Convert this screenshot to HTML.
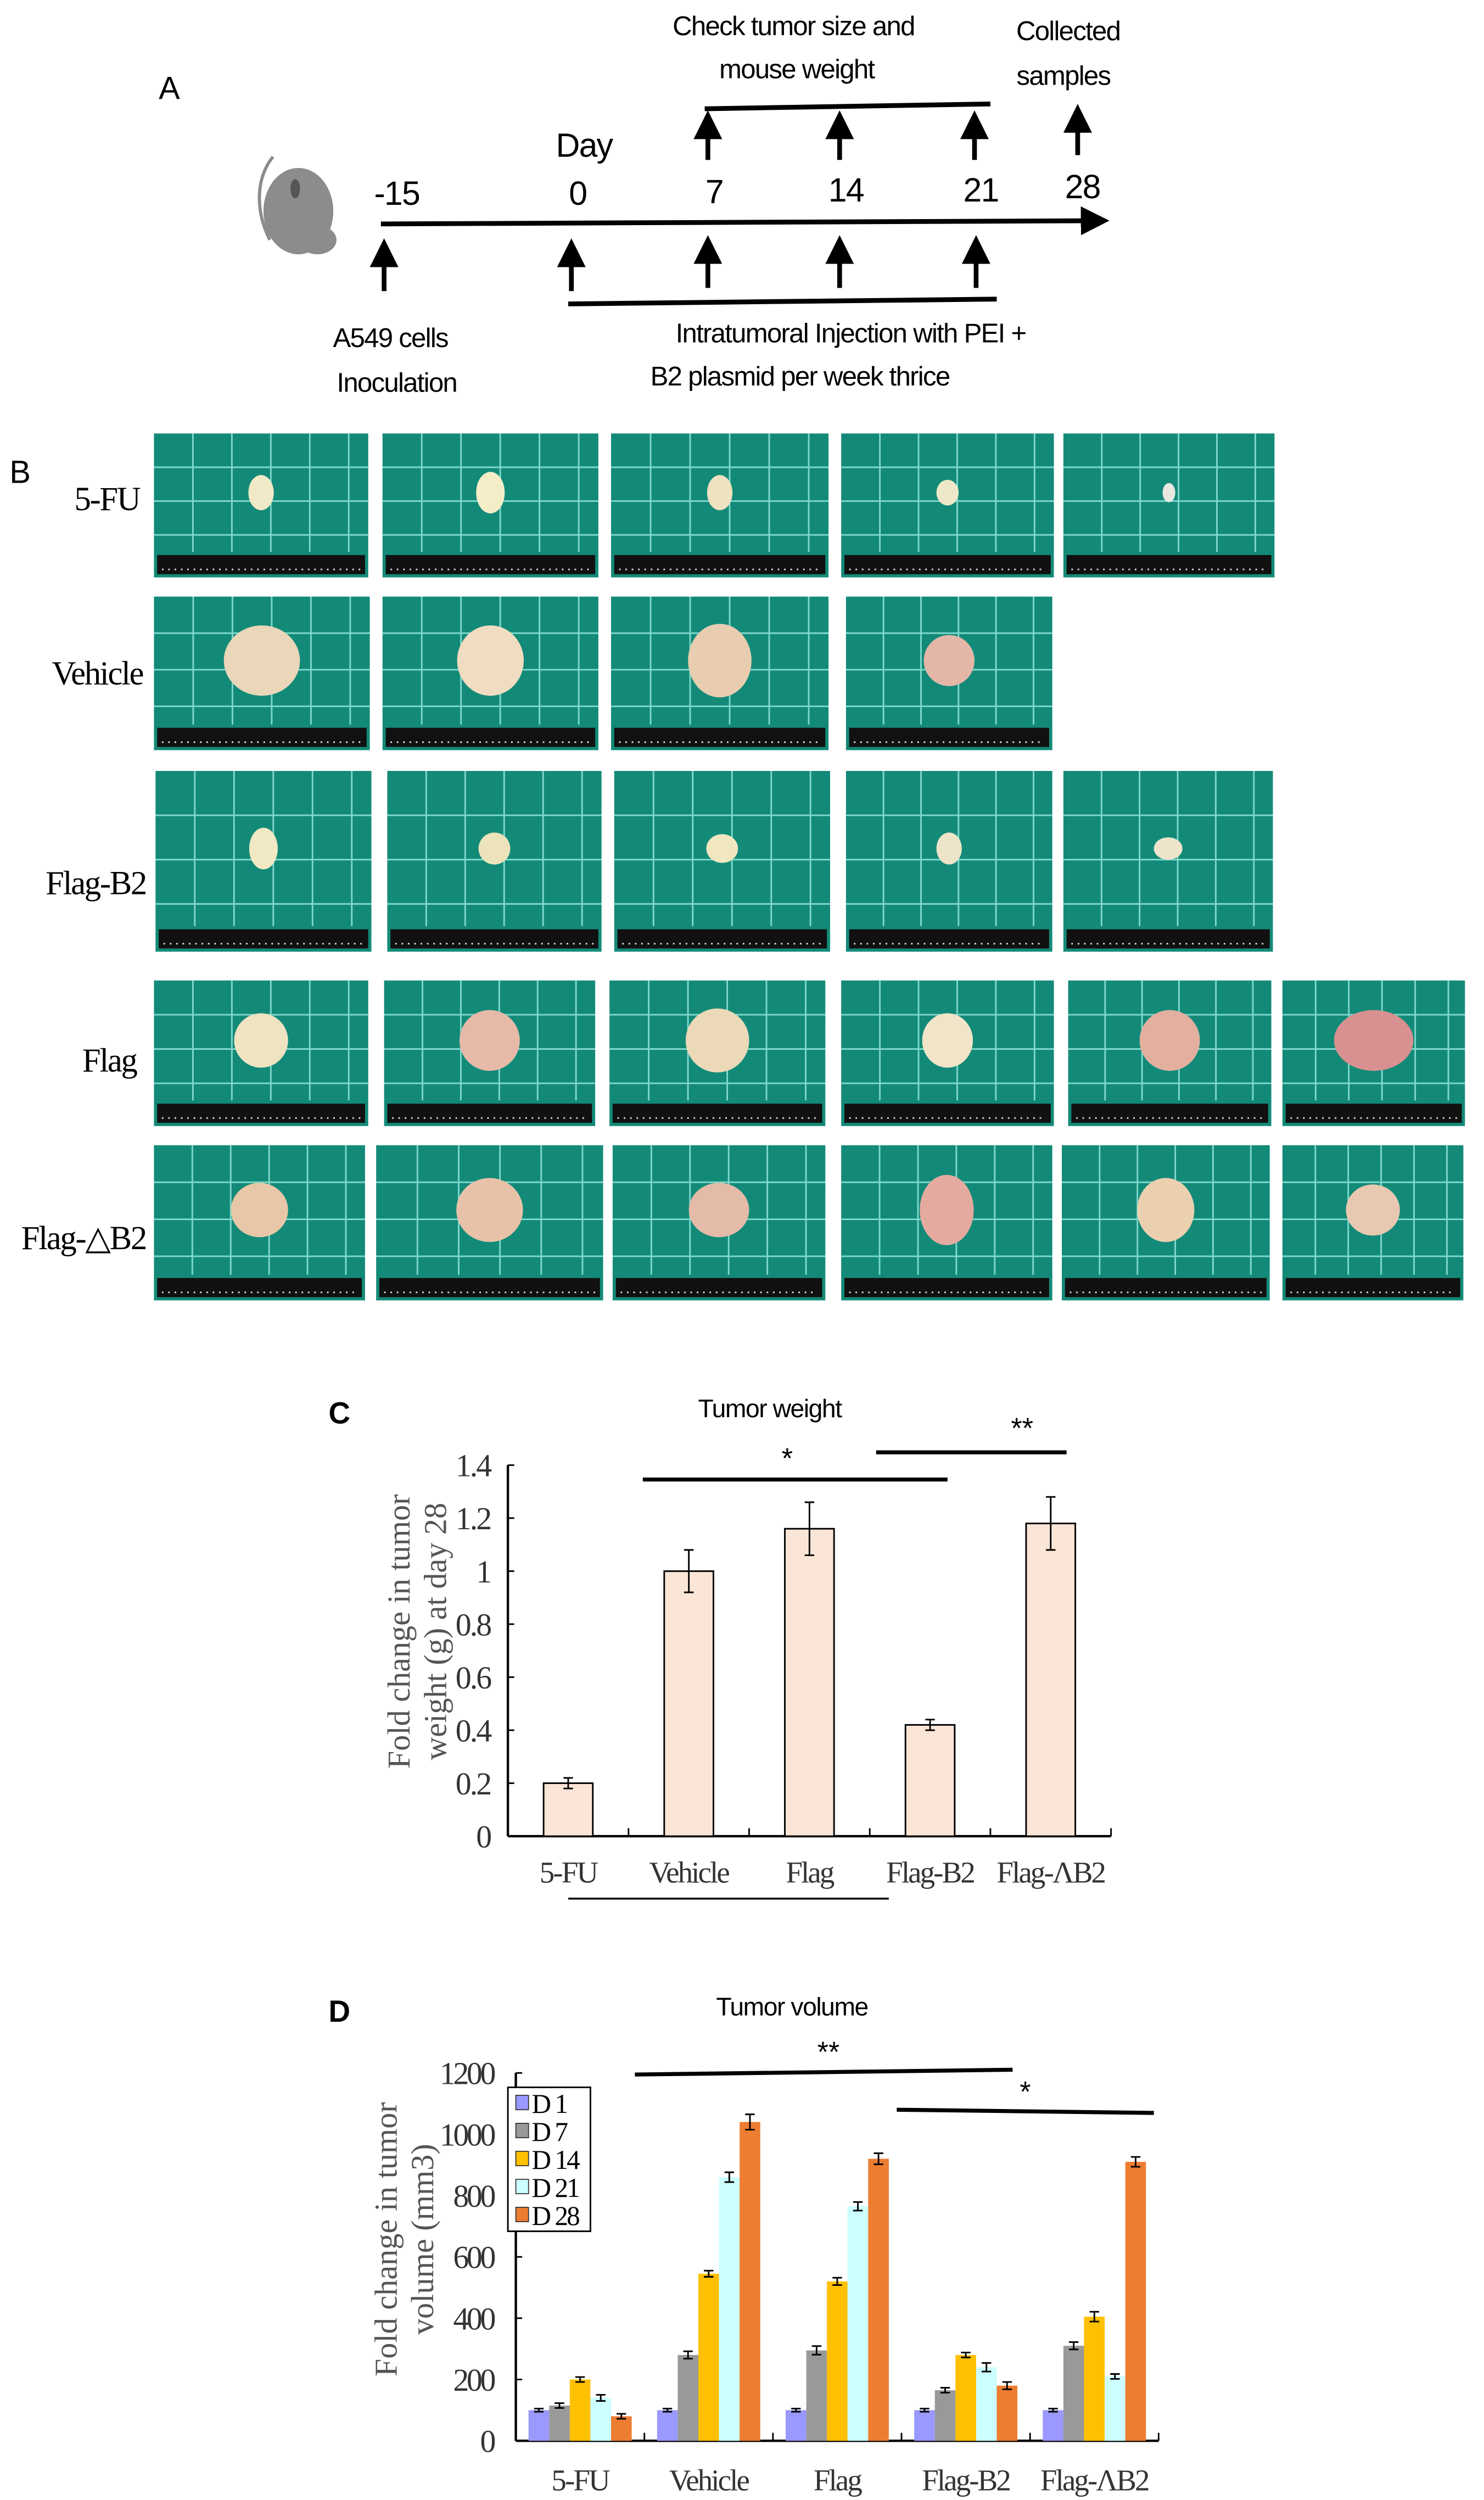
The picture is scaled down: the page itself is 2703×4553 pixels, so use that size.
<!DOCTYPE html>
<html><head><meta charset="utf-8"><style>
html,body{margin:0;padding:0;background:#fff;}
svg{display:block;}
.s{font-family:"Liberation Sans Narrow","Liberation Sans",sans-serif;}
.t{font-family:"Liberation Serif",serif;}
</style></head><body>
<svg id="fig" width="2703" height="4553" viewBox="0 0 935 1563" preserveAspectRatio="none" xmlns="http://www.w3.org/2000/svg">
<defs>
<marker id="ah" markerWidth="6" markerHeight="6" refX="3" refY="3" orient="auto"><path d="M0,0 L6,3 L0,6 z" fill="#000"/></marker>
</defs>
<!-- Panel A -->
<g class="s" font-size="17" fill="#000" letter-spacing="-0.6">
<text x="100" y="62" font-size="20">A</text>
<g>
<ellipse cx="188" cy="132" rx="22" ry="27" fill="#8c8c8c"/>
<ellipse cx="200" cy="150" rx="12" ry="9" fill="#8c8c8c"/>
<ellipse cx="186" cy="118" rx="3" ry="6" fill="#555"/>
<path d="M170,150 C160,130 162,110 172,98" stroke="#8c8c8c" stroke-width="2" fill="none"/>
</g>
<line x1="240" y1="140" x2="690" y2="138" stroke="#000" stroke-width="3" marker-end="url(#ah)"/>
<text x="368" y="98" text-anchor="middle" font-size="21">Day</text>
<g font-size="21" text-anchor="middle">
<text x="250" y="128">-15</text><text x="364" y="128">0</text><text x="450" y="127">7</text><text x="533" y="126">14</text><text x="618" y="126">21</text><text x="682" y="124">28</text>
</g>
<g stroke="#000" stroke-width="3">
<line x1="446" y1="100" x2="446" y2="78" marker-end="url(#ah)"/>
<line x1="529" y1="100" x2="529" y2="78" marker-end="url(#ah)"/>
<line x1="614" y1="100" x2="614" y2="78" marker-end="url(#ah)"/>
<line x1="679" y1="97" x2="679" y2="74" marker-end="url(#ah)"/>
<line x1="444" y1="68" x2="624" y2="65"/>
</g>
<g stroke="#000" stroke-width="3">
<line x1="242" y1="182" x2="242" y2="158" marker-end="url(#ah)"/>
<line x1="360" y1="182" x2="360" y2="158" marker-end="url(#ah)"/>
<line x1="446" y1="180" x2="446" y2="156" marker-end="url(#ah)"/>
<line x1="529" y1="180" x2="529" y2="156" marker-end="url(#ah)"/>
<line x1="615" y1="180" x2="615" y2="156" marker-end="url(#ah)"/>
<line x1="358" y1="190" x2="628" y2="187"/>
</g>
<text x="500" y="22" text-anchor="middle">Check tumor size and</text>
<text x="502" y="49" text-anchor="middle">mouse weight</text>
<text x="673" y="25" text-anchor="middle">Collected</text>
<text x="670" y="53" text-anchor="middle">samples</text>
<text x="246" y="217" text-anchor="middle">A549 cells</text>
<text x="250" y="245" text-anchor="middle">Inoculation</text>
<text x="536" y="214" text-anchor="middle">Intratumoral Injection with PEI +</text>
<text x="504" y="241" text-anchor="middle">B2 plasmid per week thrice</text>
</g>
<!-- Panel B -->
<g id="panelB">
<text x="6" y="302" font-size="20" class="s">B</text>
<g class="t" font-size="21" text-anchor="end" letter-spacing="-0.8">
<text x="88" y="319">5-FU</text>
<text x="90" y="428">Vehicle</text>
<text x="92" y="559">Flag-B2</text>
<text x="86" y="670">Flag</text>
<text x="92" y="781">Flag-△B2</text>
</g>
</g>
<!-- Panel C -->
<g id="chartC"></g>
<!-- Panel D -->
<g id="chartD"></g>
</svg>
<script>
const NS="http://www.w3.org/2000/svg";
function mk(p,tag,a,txt){const e=document.createElementNS(NS,tag);for(const k in a)e.setAttribute(k,a[k]);if(txt!==undefined)e.textContent=txt;p.appendChild(e);return e;}

// ---- photos (panel B) ----
const photoRows=[
 {y:271,h:90,xs:[[97,232],[241,377],[385,522],[530,664],[670,803]],t:[[8,11,'#efe9c8'],[9,13,'#f3edc8'],[8,11,'#eee2c0'],[7,8,'#eee8c8'],[4,6,'#e8e8e0']]},
 {y:373,h:96,xs:[[97,233],[241,377],[385,522],[533,663]],t:[[24,22,'#ead6b8'],[21,22,'#f0dcc0'],[20,23,'#e8cdb0'],[16,16,'#e3b6a8']]},
 {y:482,h:113,xs:[[98,234],[244,379],[387,523],[533,663],[670,802]],t:[[9,13,'#f1e8c4'],[10,10,'#ece3bb'],[10,9,'#f0e6c0'],[8,10,'#ece4c8'],[9,7,'#eee4cc']]},
 {y:613,h:91,xs:[[97,232],[242,375],[384,520],[530,664],[673,801],[808,923]],t:[[17,17,'#efe3c2'],[19,19,'#e7b9a8'],[20,20,'#ecd9b8'],[16,17,'#f1e4c8'],[19,19,'#e3b0a0'],[25,19,'#d99090']]},
 {y:716,h:97,xs:[[97,230],[237,380],[386,520],[530,663],[669,800],[808,922]],t:[[18,17,'#e8c7a8'],[21,20,'#e8c2a8'],[19,17,'#e4bba8'],[17,22,'#e4aaa0'],[18,20,'#ebd0b0'],[17,16,'#e8c8b0']]}
];
const pb=document.getElementById('panelB');
photoRows.forEach((r,ri)=>{r.xs.forEach((xx,ci)=>{
 const g=mk(pb,'g',{});
 
 
 const w=xx[1]-xx[0];
 mk(g,'rect',{x:xx[0],y:r.y,width:w,height:r.h,fill:'#138a78'});
 for(let k=1;k<6;k++)mk(g,'line',{x1:xx[0]+k*w/5.5,y1:r.y,x2:xx[0]+k*w/5.5,y2:r.y+r.h-16,stroke:'#7fd8cc','stroke-width':1});
 for(let k=1;k<4;k++)mk(g,'line',{x1:xx[0],y1:r.y+k*(r.h-16)/3.5,x2:xx[0]+w,y2:r.y+k*(r.h-16)/3.5,stroke:'#7fd8cc','stroke-width':1});
 mk(g,'rect',{x:xx[0]+2,y:r.y+r.h-14,width:w-4,height:12,fill:'#111'});
 mk(g,'line',{x1:xx[0]+5,y1:r.y+r.h-5,x2:xx[0]+w-5,y2:r.y+r.h-5,stroke:'#ddd','stroke-width':1,'stroke-dasharray':'1,3'});
 const t=r.t[ci];
 mk(g,'ellipse',{cx:xx[0]+w*0.5,cy:r.y+(r.h-16)*0.5,rx:t[0],ry:t[1],fill:t[2]});
});});

// ---- Chart C ----
const cCategories=['5-FU','Vehicle','Flag','Flag-B2','Flag-ΛB2'];
const cValues=[0.2,1.0,1.16,0.42,1.18];
const cErrors=[0.02,0.08,0.1,0.02,0.1];
const cTicks=[0,0.2,0.4,0.6,0.8,1,1.2,1.4];
(function(){
 const g=document.getElementById('chartC');
 const x0=320,x1=700,yb=1148,yt=916,ymax=1.4;
 const Y=v=>yb-(v/ymax)*(yb-yt);
 const band=(x1-x0)/cCategories.length;
 const X=i=>x0+band*(i+0.5);
 let e;
 e=mk(g,'text',{x:207,y:890,'font-size':19,'font-family':'Liberation Sans, sans-serif','font-weight':'bold'},'C');
 
 e=mk(g,'text',{x:485,y:886,'font-size':16,'letter-spacing':-0.5,'text-anchor':'middle','font-family':'Liberation Sans Narrow, Liberation Sans, sans-serif'},'Tumor weight');
 
 e=mk(g,'line',{x1:x0,y1:yt,x2:x0,y2:yb,stroke:'#000','stroke-width':1.5});
 
 e=mk(g,'line',{x1:x0,y1:yb,x2:x1,y2:yb,stroke:'#000','stroke-width':1.5});
 
 cTicks.forEach(v=>{mk(g,'line',{x1:x0,y1:Y(v),x2:x0+4,y2:Y(v),stroke:'#000'});
  e=mk(g,'text',{x:309,y:Y(v)+7,'font-size':20,'letter-spacing':-1,'text-anchor':'end','font-family':'Liberation Serif, serif',fill:'#333'},String(v));
  });
 for(let i=1;i<=cCategories.length;i++)mk(g,'line',{x1:x0+band*i,y1:yb,x2:x0+band*i,y2:yb-5,stroke:'#000'});
 cValues.forEach((v,i)=>{
  e=mk(g,'rect',{x:X(i)-15.5,y:Y(v),width:31,height:yb-Y(v),fill:'#fbe5d6',stroke:'#000','stroke-width':1});
  
  const eh=Y(v+cErrors[i]),el=Y(v-cErrors[i]);
  e=mk(g,'path',{d:`M${X(i)},${eh}V${el}M${X(i)-3},${eh}H${X(i)+3}M${X(i)-3},${el}H${X(i)+3}`,stroke:'#000',fill:'none'});
  
  e=mk(g,'text',{x:X(i),y:1177,'font-size':19,'letter-spacing':-1,'text-anchor':'middle','font-family':'Liberation Serif, serif',fill:'#333'},cCategories[i]);
  
 });
 e=mk(g,'text',{transform:'translate(258,1020) rotate(-90)','font-size':20,'text-anchor':'middle','font-family':'Liberation Serif, serif',fill:'#555'},'Fold change in tumor');
 
 e=mk(g,'text',{transform:'translate(281,1020) rotate(-90)','font-size':20,'text-anchor':'middle','font-family':'Liberation Serif, serif',fill:'#555'},'weight (g) at day 28');
 
 e=mk(g,'line',{x1:405,y1:925,x2:597,y2:925,stroke:'#000','stroke-width':2.5});
 
 mk(g,'text',{x:496,y:918,'font-size':18,'text-anchor':'middle','font-family':'Liberation Sans, sans-serif'},'*');
 e=mk(g,'line',{x1:552,y1:908,x2:672,y2:908,stroke:'#000','stroke-width':2.5});
 
 mk(g,'text',{x:644,y:899,'font-size':18,'text-anchor':'middle','font-family':'Liberation Sans, sans-serif'},'**');
 e=mk(g,'line',{x1:358,y1:1187,x2:560,y2:1187,stroke:'#000','stroke-width':1.2});
 
})();

// ---- Chart D ----
const dCategories=['5-FU','Vehicle','Flag','Flag-B2','Flag-ΛB2'];
const dSeriesNames=['D 1','D 7','D 14','D 21','D 28'];
const dD1=[100,100,100,100,100];
const dD7=[115,280,295,165,310];
const dD14=[200,545,520,280,405];
const dD21=[140,860,765,240,210];
const dD28=[80,1040,920,180,910];
const dErr=[[5,5,5,5,5],[8,12,14,8,12],[8,10,12,8,16],[10,16,14,14,8],[8,25,18,12,16]];
const dTicks=[0,200,400,600,800,1000,1200];
const dColors=['#9999ff','#999999','#ffc000','#ccffff','#ed7d31'];
(function(){
 const g=document.getElementById('chartD');
 const series=[dD1,dD7,dD14,dD21,dD28];
 const x0=325,x1=730,yb=1526,yt=1296,ymax=1200;
 const Y=v=>yb-(v/ymax)*(yb-yt);
 const band=(x1-x0)/dCategories.length;
 const bw=13;
 const BX=(i,s)=>x0+band*i+(band-bw*5)/2+bw*s;
 let e;
 e=mk(g,'text',{x:207,y:1264,'font-size':19,'font-family':'Liberation Sans, sans-serif','font-weight':'bold'},'D');
 
 e=mk(g,'text',{x:499,y:1260,'font-size':16,'letter-spacing':-0.5,'text-anchor':'middle','font-family':'Liberation Sans Narrow, Liberation Sans, sans-serif'},'Tumor volume');
 
 e=mk(g,'line',{x1:x0,y1:yt,x2:x0,y2:yb,stroke:'#000','stroke-width':1.5});
 
 e=mk(g,'line',{x1:x0,y1:yb,x2:x1,y2:yb,stroke:'#000','stroke-width':1.5});
 
 dTicks.forEach(v=>{mk(g,'line',{x1:x0,y1:Y(v),x2:x0+4,y2:Y(v),stroke:'#000'});
  e=mk(g,'text',{x:311,y:Y(v)+7,'font-size':20,'letter-spacing':-1.5,'text-anchor':'end','font-family':'Liberation Serif, serif',fill:'#333'},String(v));
  });
 for(let i=1;i<=dCategories.length;i++)mk(g,'line',{x1:x0+band*i,y1:yb,x2:x0+band*i,y2:yb-5,stroke:'#000'});
 dCategories.forEach((c,i)=>{
  series.forEach((arr,s)=>{
   const v=arr[i];
   e=mk(g,'rect',{x:BX(i,s),y:Y(v),width:bw,height:yb-Y(v),fill:dColors[s]});
   
   const cx=BX(i,s)+bw/2,eh=Y(v+dErr[s][i]),el=Y(v-dErr[s][i]);
   e=mk(g,'path',{d:`M${cx},${eh}V${el}M${cx-3},${eh}H${cx+3}M${cx-3},${el}H${cx+3}`,stroke:'#000',fill:'none'});
   
  });
  e=mk(g,'text',{x:x0+band*(i+0.5),y:1557,'font-size':19,'letter-spacing':-1,'text-anchor':'middle','font-family':'Liberation Serif, serif',fill:'#333'},c);
  
 });
 e=mk(g,'text',{transform:'translate(250,1400) rotate(-90)','font-size':20,'text-anchor':'middle','font-family':'Liberation Serif, serif',fill:'#555'},'Fold change in tumor');
 
 e=mk(g,'text',{transform:'translate(273,1400) rotate(-90)','font-size':20,'text-anchor':'middle','font-family':'Liberation Serif, serif',fill:'#555'},'volume (mm3)');
 
 const lg=mk(g,'g',{});
 
 mk(lg,'rect',{x:320,y:1305,width:52,height:90,fill:'#fff',stroke:'#000'});
 dSeriesNames.forEach((n,s)=>{
  const ly=1315+s*17.5;
  const it=mk(lg,'g',{});
  
  mk(it,'rect',{x:325,y:ly-5,width:8,height:9,fill:dColors[s],stroke:'#333','stroke-width':0.6});
  mk(it,'text',{x:335,y:ly+6,'font-size':17,'letter-spacing':-1,'font-family':'Liberation Serif, serif'},n);
 });
 e=mk(g,'line',{x1:400,y1:1297,x2:638,y2:1294,stroke:'#000','stroke-width':2.5});
 
 mk(g,'text',{x:522,y:1289,'font-size':18,'text-anchor':'middle','font-family':'Liberation Sans, sans-serif'},'**');
 e=mk(g,'line',{x1:565,y1:1319,x2:727,y2:1321,stroke:'#000','stroke-width':2.5});
 
 mk(g,'text',{x:646,y:1314,'font-size':18,'text-anchor':'middle','font-family':'Liberation Sans, sans-serif'},'*');
})();
</script>
</body></html>
